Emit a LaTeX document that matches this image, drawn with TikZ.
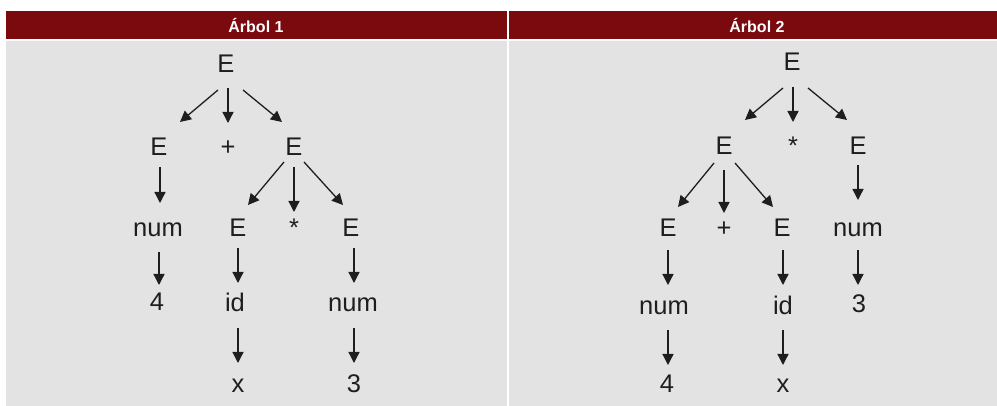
\documentclass[tikz,border=0pt]{standalone}
\usepackage{fontspec}
\setmainfont{Liberation Sans}
\usetikzlibrary{arrows.meta,calc}
\definecolor{hdr}{HTML}{7B0A0E}
\definecolor{cell}{HTML}{E3E3E3}
\definecolor{ink}{HTML}{1E1E1E}
\begin{document}
\begin{tikzpicture}[x=1pt,y=-1pt,
  sym/.style={anchor=base,inner sep=0pt,text=ink,font=\fontsize{25.5}{30}\selectfont},
  hdrtext/.style={text=white,font=\bfseries\fontsize{16}{19}\selectfont},
  arr/.style={draw=ink,line width=1.3pt,-{Triangle[length=11pt,width=11pt]}}]
\fill[white] (0,0) rectangle (997,406);
\useasboundingbox (0,0) rectangle (997,406);
% panels
\fill[hdr] (6,11) rectangle (507,39);
\fill[hdr] (509,11) rectangle (997,39);
\fill[cell] (6,41) rectangle (507,406);
\fill[cell] (509,41) rectangle (997,406);
\node[hdrtext] (h1) at (256,25.5) {Árbol 1};
\node[hdrtext] (h2) at (757,25.5) {Árbol 2};
% tree 1
\node[sym] (a1) at (226,73) {E};
\node[sym] (b1) at (159,156) {E};
\node[sym] (p1) at (228,156) {+};
\node[sym] (c1) at (294,156) {E};
\node[sym] (d1) at (158,237) {num};
\node[sym] (e1) at (238,237) {E};
\node[sym] (s1) at (294,237) {*};
\node[sym] (f1) at (351,237) {E};
\node[sym] (g1) at (157,311) {4};
\node[sym] (hh1) at (235,312) {id};
\node[sym] (i1) at (353,312) {num};
\node[sym] (j1) at (238,392) {x};
\node[sym] (k1) at (354,392) {3};
\draw[arr] ($(a1.base)+(-8,17)$) -- ($(b1.base)+(21,-34)$);
\draw[arr] ($(a1.base)+(2,15)$) -- ($(p1.base)+(0,-33)$);
\draw[arr] ($(a1.base)+(17,17)$) -- ($(c1.base)+(-12,-34)$);
\draw[arr] ($(b1.base)+(1,11)$) -- ($(d1.base)+(2,-34)$);
\draw[arr] ($(c1.base)+(-10,6)$) -- ($(e1.base)+(10,-32)$);
\draw[arr] ($(c1.base)+(0,11)$) -- ($(s1.base)+(0,-25)$);
\draw[arr] ($(c1.base)+(10,6)$) -- ($(f1.base)+(-8,-32)$);
\draw[arr] ($(d1.base)+(1,15)$) -- ($(g1.base)+(2,-26)$);
\draw[arr] ($(e1.base)+(0,11)$) -- ($(hh1.base)+(3,-29)$);
\draw[arr] ($(f1.base)+(3,11)$) -- ($(i1.base)+(1,-29)$);
\draw[arr] ($(hh1.base)+(3,16)$) -- ($(j1.base)+(0,-29)$);
\draw[arr] ($(i1.base)+(1,16)$) -- ($(k1.base)+(0,-29)$);
% tree 2
\node[sym] (a2) at (792,71) {E};
\node[sym] (b2) at (724,155) {E};
\node[sym] (s2) at (793,155) {*};
\node[sym] (c2) at (858,155) {E};
\node[sym] (d2) at (668,237) {E};
\node[sym] (p2) at (724,237) {+};
\node[sym] (e2) at (782,237) {E};
\node[sym] (f2) at (858,237) {num};
\node[sym] (g2) at (664,315) {num};
\node[sym] (hh2) at (783,315) {id};
\node[sym] (i2) at (859,313) {3};
\node[sym] (j2) at (667,392) {4};
\node[sym] (k2) at (783,392) {x};
\draw[arr] ($(a2.base)+(-9,17)$) -- ($(b2.base)+(21,-35)$);
\draw[arr] ($(a2.base)+(1,16)$) -- ($(s2.base)+(0,-33)$);
\draw[arr] ($(a2.base)+(16,17)$) -- ($(c2.base)+(-11,-35)$);
\draw[arr] ($(b2.base)+(-10,8)$) -- ($(d2.base)+(10,-30)$);
\draw[arr] ($(b2.base)+(0,15)$) -- ($(p2.base)+(0,-24)$);
\draw[arr] ($(b2.base)+(11,8)$) -- ($(e2.base)+(-9,-30)$);
\draw[arr] ($(c2.base)+(0,10)$) -- ($(f2.base)+(0,-37)$);
\draw[arr] ($(d2.base)+(0,13)$) -- ($(g2.base)+(4,-30)$);
\draw[arr] ($(e2.base)+(1,13)$) -- ($(hh2.base)+(0,-30)$);
\draw[arr] ($(f2.base)+(0,13)$) -- ($(i2.base)+(-1,-28)$);
\draw[arr] ($(g2.base)+(4,15)$) -- ($(j2.base)+(1,-27)$);
\draw[arr] ($(hh2.base)+(0,15)$) -- ($(k2.base)+(0,-27)$);
\end{tikzpicture}
\end{document}
